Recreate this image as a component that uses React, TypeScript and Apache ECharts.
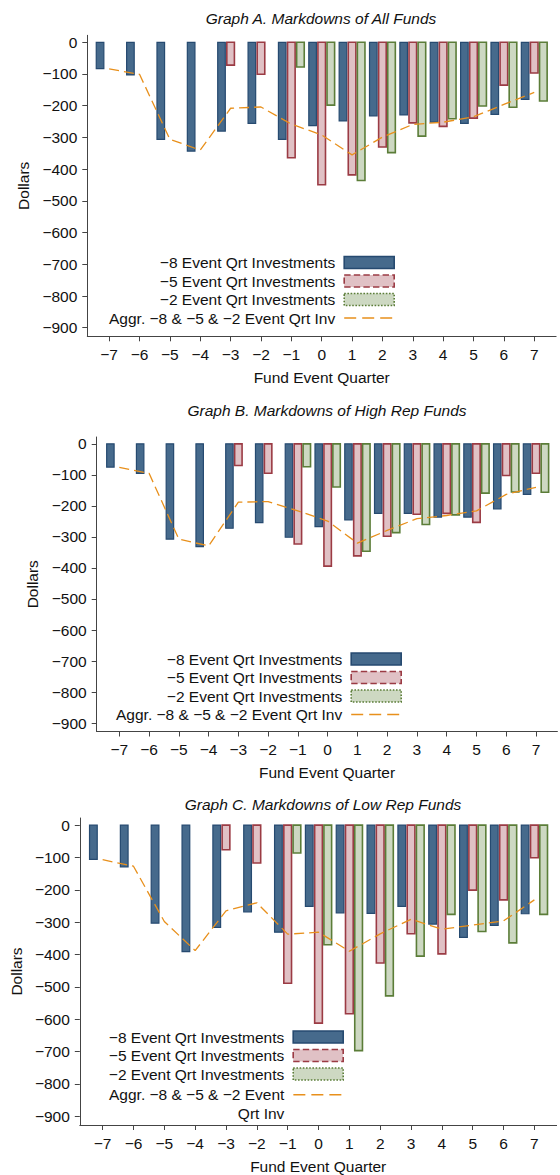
import React, { useEffect, useRef } from "react";
import * as echarts from "echarts";

const quarters = [-7, -6, -5, -4, -3, -2, -1, 0, 1, 2, 3, 4, 5, 6, 7];
const yTicks = [0, -100, -200, -300, -400, -500, -600, -700, -800, -900];

const seriesNames = [
  "\u22128 Event Qrt Investments",
  "\u22125 Event Qrt Investments",
  "\u22122 Event Qrt Investments",
  "Aggr. \u22128 & \u22125 & \u22122 Event Qrt Inv",
];
const wrappedAggrLabel = "\nAggr. \u22128 & \u22125 & \u22122 Event\nQrt Inv";
const panelTitles = [
  "Graph A. Markdowns of All Funds",
  "Graph B. Markdowns of High Rep Funds",
  "Graph C. Markdowns of Low Rep Funds",
];

// Graph A
const aBlue = [-83, -103, -306, -343, -280, -256, -306, -263, -248, -232, -229, -252, -256, -227, -180];
const aRed = [null, null, null, null, -72, -101, -364, -449, -418, -330, -254, -265, -239, -135, -97];
const aGreen = [null, null, null, null, null, null, -78, -198, -436, -348, -296, -241, -201, -205, -185];
const aLine = [-84, -101, -306, -340, -208, -204, -258, -292, -355, -299, -259, -252, -235, -196, -158];

// Graph B
const bBlue = [-75, -95, -307, -331, -272, -254, -301, -267, -245, -224, -224, -236, -236, -210, -163];
const bRed = [null, null, null, null, -70, -95, -323, -394, -361, -298, -227, -224, -253, -102, -95];
const bGreen = [null, null, null, null, null, null, -74, -139, -346, -286, -260, -229, -159, -155, -156];
const bLine = [-76, -95, -307, -329, -188, -186, -216, -249, -320, -279, -241, -231, -216, -163, -140];

// Graph C
const cBlue = [-106, -129, -303, -391, -316, -268, -331, -251, -271, -273, -251, -306, -347, -310, -274];
const cRed = [null, null, null, null, -76, -117, -489, -612, -583, -426, -336, -398, -201, -231, -101];
const cGreen = [null, null, null, null, null, null, -86, -370, -697, -528, -405, -276, -329, -364, -276];
const cLine = [-107, -127, -298, -388, -265, -240, -337, -331, -390, -336, -291, -322, -309, -296, -231];

const panels = [
  { blue: aBlue, red: aRed, green: aGreen, line: aLine },
  { blue: bBlue, red: bRed, green: bGreen, line: bLine },
  { blue: cBlue, red: cRed, green: cGreen, line: cLine },
];

const FONT = "'Liberation Sans', Arial, Helvetica, sans-serif";
const FS = 15.5;
const TXT = "#111";
const AXC = "#444";
const BAR_W = 0.25;

const barStyles = [
  { fill: "#466A8C", stroke: "#264A70", lineWidth: 1.2, dash: "solid" },
  { fill: "#E0C1C5", stroke: "#9B3B44", lineWidth: 1.6, dash: "dashed" },
  { fill: "#CDD8C2", stroke: "#5B7D38", lineWidth: 1.6, dash: "dotted" },
];
const offsets = [-0.3, 0, 0.3];
const lineColor = "#E8901C";

const layout = [
  { left: 87.3, top: 35.3, width: 468.8, height: 301, xmin: -7.72, xmax: 7.72, titleX: 321, titleY: 10, legendRight: 165, legendTop: 253.5 },
  { left: 96.7, top: 437, width: 460.7, height: 294.5, xmin: -7.76, xmax: 7.72, titleX: 327, titleY: 402, legendRight: 158, legendTop: 650 },
  { left: 77.3, top: 818, width: 479.3, height: 307.5, xmin: -7.74, xmax: 7.72, titleX: 323, titleY: 796, legendRight: 216, legendTop: 1028 },
];

const fmt = (v: number) => (v < 0 ? "\u2212" + Math.abs(v) : String(v));

function buildOption() {
  const grid: any[] = [];
  const xAxis: any[] = [];
  const yAxis: any[] = [];
  const series: any[] = [];
  const title: any[] = [];
  const legend: any[] = [];

  const legendBase = {
    orient: "vertical",
    align: "right",
    padding: 0,
    itemWidth: 50,
    itemHeight: 12,
    itemGap: 0.5,
    selectedMode: false,
    textStyle: { color: TXT, fontSize: FS, fontFamily: FONT, padding: [0, 4, 0, 0], lineHeight: 18 },
  };
  const barLegendItems = [0, 1, 2].map((si) => ({
    name: seriesNames[si],
    icon: "rect",
    itemStyle: {
      color: barStyles[si].fill,
      borderColor: barStyles[si].stroke,
      borderWidth: 1.6,
      borderType: barStyles[si].dash,
    },
  }));
  const lineLegendItem = {
    name: seriesNames[3],
    itemStyle: { opacity: 0 },
    lineStyle: { color: lineColor, width: 1.3, type: [12, 6] },
  };

  layout.forEach((L, gi) => {
    grid.push({ left: L.left, top: L.top, width: L.width, height: L.height, containLabel: false });
    xAxis.push({
      type: "value",
      gridIndex: gi,
      min: L.xmin,
      max: L.xmax,
      name: "Fund Event Quarter",
      nameLocation: "middle",
      nameGap: 33,
      nameTextStyle: { color: TXT, fontSize: FS, fontFamily: FONT },
      axisLine: { show: true, onZero: false, lineStyle: { color: AXC, width: 1 } },
      axisTick: { show: true, length: 5, customValues: quarters, lineStyle: { color: AXC } },
      axisLabel: { customValues: quarters, formatter: fmt, color: TXT, fontSize: FS, fontFamily: FONT, margin: 10 },
      splitLine: { show: false },
    });
    yAxis.push({
      type: "value",
      gridIndex: gi,
      min: -927,
      max: 22,
      name: "Dollars",
      nameLocation: "middle",
      nameGap: 51,
      nameTextStyle: { color: TXT, fontSize: FS, fontFamily: FONT },
      axisLine: { show: true, onZero: false, lineStyle: { color: AXC, width: 1 } },
      axisTick: { show: true, length: 5, customValues: yTicks, lineStyle: { color: AXC } },
      axisLabel: { customValues: yTicks, formatter: fmt, color: TXT, fontSize: FS, fontFamily: FONT, margin: 10 },
      splitLine: { show: false },
    });
    title.push({
      text: panelTitles[gi],
      left: L.titleX,
      top: L.titleY,
      textAlign: "center",
      padding: 0,
      textStyle: { fontStyle: "italic", fontWeight: "normal", fontSize: FS, color: TXT, fontFamily: FONT },
    });

    const P = panels[gi];
    [P.blue, P.red, P.green].forEach((vals, si) => {
      const st = barStyles[si];
      const off = offsets[si];
      const data = quarters
        .map((q, i) => [q, vals[i]])
        .filter((d) => d[1] !== null && d[1] !== undefined);
      series.push({
        type: "custom",
        name: seriesNames[si],
        xAxisIndex: gi,
        yAxisIndex: gi,
        encode: { x: 0, y: 1 },
        itemStyle: { color: st.fill, borderColor: st.stroke },
        z: 2,
        data,
        renderItem: (params: any, api: any) => {
          const x = api.value(0) as number;
          const v = api.value(1) as number;
          const p0 = api.coord([x + off - BAR_W / 2, 0]);
          const p1 = api.coord([x + off + BAR_W / 2, v]);
          return {
            type: "rect",
            shape: { x: p0[0], y: p0[1], width: p1[0] - p0[0], height: p1[1] - p0[1] },
            style: { fill: st.fill, stroke: st.stroke, lineWidth: st.lineWidth },
          };
        },
      });
    });
    series.push({
      type: "line",
      name: seriesNames[3],
      xAxisIndex: gi,
      yAxisIndex: gi,
      data: quarters.map((q, i) => [q, P.line[i]]),
      symbol: "none",
      showSymbol: false,
      z: 5,
      lineStyle: { color: lineColor, width: 1.3, type: [10, 5] },
      itemStyle: { color: lineColor },
    });

    if (gi < 2) {
      legend.push({
        ...legendBase,
        right: L.legendRight,
        top: L.legendTop,
        data: [...barLegendItems, lineLegendItem],
      });
    } else {
      legend.push({
        ...legendBase,
        right: L.legendRight,
        top: L.legendTop,
        data: barLegendItems,
      });
      legend.push({
        ...legendBase,
        right: L.legendRight,
        top: 1067,
        textStyle: { color: TXT, fontSize: FS, fontFamily: FONT, padding: [0, 4, 0, 0], lineHeight: 18.5 },
        formatter: (name: string) => (name === seriesNames[3] ? wrappedAggrLabel : name),
        data: [lineLegendItem],
      });
    }
  });

  return {
    animation: false,
    backgroundColor: "#fff",
    textStyle: { fontFamily: FONT },
    title,
    legend,
    grid,
    xAxis,
    yAxis,
    series,
  };
}

export default function App() {
  const ref = useRef<HTMLDivElement>(null);
  useEffect(() => {
    if (!ref.current) return;
    const chart = echarts.init(ref.current, undefined, { renderer: "svg" });
    chart.setOption(buildOption() as any);
    return () => chart.dispose();
  }, []);
  return (
    <div
      ref={ref}
      style={{ position: "absolute", left: 0, top: 0, width: 560, height: 1175, background: "#fff" }}
    />
  );
}
